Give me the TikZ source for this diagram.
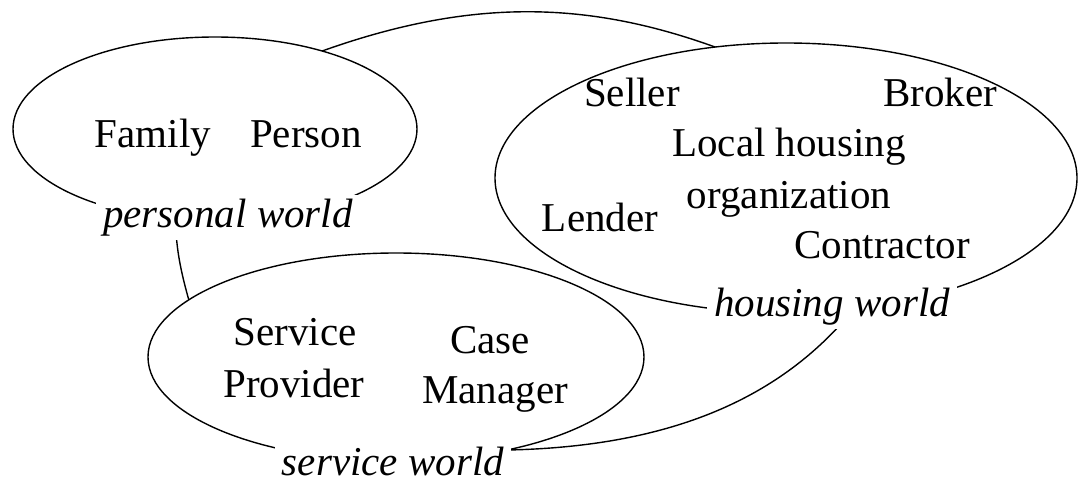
\documentclass[tikz,border=0pt]{standalone}
\usepackage{fontspec}
\setmainfont{Liberation Serif}
\usetikzlibrary{shapes.geometric}
\begin{document}
\begin{tikzpicture}[x=1pt,y=-1pt,
  world/.style={ellipse, draw, fill=white, line width=1.4pt, inner sep=0pt, outer sep=0pt},
  term/.style={anchor=base, inner sep=0pt, font=\fontsize{41}{48}\selectfont},
  realm/.style={anchor=base, fill=white, inner xsep=7pt, inner ysep=4pt,
                font=\fontsize{41}{48}\selectfont\itshape},
  outline/.style={line width=1.4pt}]
\useasboundingbox (0,0) rectangle (1079,484);

% outer boundary that ties the three worlds together (partly covered by them)
\draw[outline] (325,50) .. controls (475,-3) and (590,2) .. (715,47)
  .. controls (800,75) and (900,250) .. (840,325)
  .. controls (762,410) and (650,447) .. (508,450)
  .. controls (420,455) and (215,400) .. (188,297)
  .. controls (175,250) and (160,180) .. (215,120)
  .. controls (250,90) and (280,65) .. (325,50) -- cycle;

% the three worlds
\node[world, minimum width=404pt, minimum height=184pt] (personal) at (215,129) {};
\node[world, minimum width=582pt, minimum height=270pt] (housing) at (786,178) {};
\node[world, minimum width=496pt, minimum height=208pt] (service) at (396,357) {};

% personal world
\node[term] (family) at (153,148) {Family};
\node[term] (person) at (306,148) {Person};
\node[realm] (personalLbl) at (228,227) {personal world};

% housing world
\node[term] (seller) at (632,107) {Seller};
\node[term] (broker) at (940,107) {Broker};
\node[term] (local) at (789,157) {Local housing};
\node[term] (org) at (789,208) {organization};
\node[term] (lender) at (600,231) {Lender};
\node[term] (contractor) at (882,258) {Contractor};
\node[realm] (housingLbl) at (832,316) {housing world};

% service world
\node[term] (serviceA) at (295,345) {Service};
\node[term] (serviceB) at (294,397) {Provider};
\node[term] (caseA) at (490,353) {Case};
\node[term] (caseB) at (495,403) {Manager};
\node[realm] (serviceLbl) at (393,475) {service world};
\end{tikzpicture}
\end{document}
